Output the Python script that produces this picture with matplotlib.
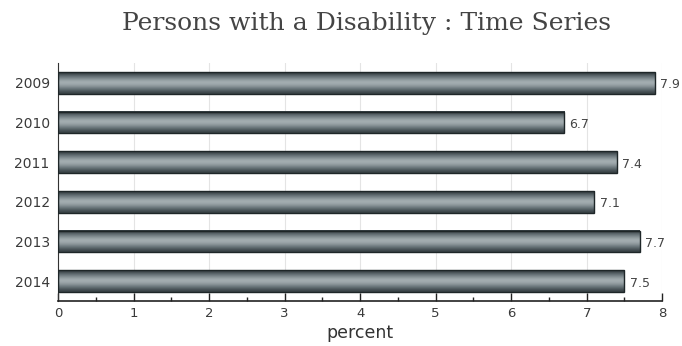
import matplotlib
matplotlib.use('Agg')
import matplotlib.pyplot as plt
import matplotlib.colors as clr
import numpy as np

years = ['2009', '2010', '2011', '2012', '2013', '2014']
values = [7.9, 6.7, 7.4, 7.1, 7.7, 7.5]
xticks = [0, 1, 2, 3, 4, 5, 6, 7, 8]

fig = plt.figure(figsize=(6.82, 3.46), dpi=100, facecolor='white')
ax = fig.add_axes([0.085, 0.13, 0.886, 0.688])

# cylinder-like shading for the bars
cmap = clr.LinearSegmentedColormap.from_list('steel', ['#2c3539', '#6b777c', '#b5bec1'])
profile = np.array([0.05, 0.35, 0.55, 0.75, 0.9, 0.85, 0.7, 0.5, 0.3, 0.1]).reshape(-1, 1)

height = 0.54
ypos = np.arange(len(years))
for y, v in zip(ypos, values):
    ax.imshow(profile, cmap=cmap, vmin=0, vmax=1, aspect='auto',
              extent=(0, v, y + height / 2, y - height / 2), zorder=2,
              interpolation='bicubic')
    ax.add_patch(plt.Rectangle((0, y - height / 2), v, height, fill=False,
                               edgecolor='#1e2628', linewidth=1.0, zorder=3))
    ax.text(v + 0.07, y + 0.05, f'{v}', va='center', ha='left', fontsize=9,
            color='#444444')

ax.set_xlim(0, 8)
ax.set_ylim(len(years) - 0.5, -0.5)
ax.set_yticks(ypos)
ax.set_yticklabels(years, fontsize=10, color='#3a3a3a')
ax.set_xticks(xticks)
ax.set_xticklabels([str(t) for t in xticks], fontsize=9.5, color='#3a3a3a')
ax.set_xticks(np.arange(0.5, 8, 1), minor=True)
ax.tick_params(axis='x', which='major', direction='in', length=6, width=1, color='#222222', pad=4)
ax.tick_params(axis='x', which='minor', direction='in', length=3, width=1, color='#222222')
ax.tick_params(axis='y', length=0, pad=6)

ax.grid(axis='x', color='#e4e4e4', linewidth=0.8, zorder=0)
ax.set_axisbelow(True)
for s in ['top', 'right']:
    ax.spines[s].set_visible(False)
ax.spines['left'].set_color('#333333')
ax.spines['bottom'].set_color('#222222')
ax.spines['bottom'].set_linewidth(1.2)

ax.set_xlabel('percent', fontsize=12.5, color='#333333', labelpad=3)
fig.text(0.537, 0.932, 'Persons with a Disability : Time Series', ha='center', va='center',
         fontsize=18, family='DejaVu Serif', color='#444444')

fig.savefig('out.png', dpi=100, facecolor='white')
